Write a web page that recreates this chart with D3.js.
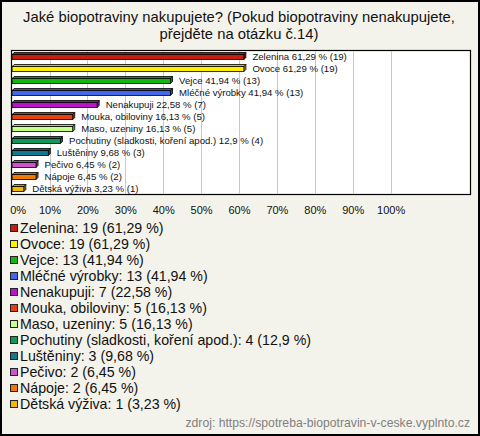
<!DOCTYPE html>
<html><head><meta charset="utf-8">
<script src="https://cdn.jsdelivr.net/npm/d3@7/dist/d3.min.js"></script>
<style>body{margin:0;background:#fff}svg{display:block}</style>
</head><body><svg id="c" width="480" height="436"></svg>
<script>
const categories = ["Zelenina","Ovoce","Vejce","Mléčné výrobky","Nenakupuji","Mouka, obiloviny","Maso, uzeniny","Pochutiny (sladkosti, koření apod.)","Luštěniny","Pečivo","Nápoje","Dětská výživa"];
const counts = [19,19,13,13,7,5,5,4,3,2,2,1];
const percents = [61.29,61.29,41.94,41.94,22.58,16.13,16.13,12.9,9.68,6.45,6.45,3.23];
const colors = ["#c41e0c","#ffee00","#12b812","#4466ee","#b814c8","#e2420e","#c4ff88","#10985a","#127a8c","#cc55cc","#ee7a00","#eebb00"];
const tickValues = [0,10,20,30,40,50,60,70,80,90,100];
const title = ["Jaké biopotraviny nakupujete? (Pokud biopotraviny nenakupujete,","přejděte na otázku č.14)"];
const source = "zdroj: https://spotreba-biopotravin-v-ceske.vyplnto.cz";

const fmt = v => String(v).replace(".", ",");
const svg = d3.select("#c");
const W = 480, H = 436;
svg.append("rect").attr("x",1).attr("y",1).attr("width",W-2).attr("height",H-2)
  .attr("fill","#f4f3eb").attr("stroke","#000").attr("stroke-width",2);

svg.selectAll("text.title").data(title).join("text")
  .attr("x",239).attr("y",(d,i)=>22+i*17).attr("text-anchor","middle")
  .attr("font-family","Liberation Sans, Arial").attr("font-size",14.8).attr("fill","#111").text(d=>d);

const plot = {l:11.5, t:50.5, r:470.5, b:194.5};
svg.append("rect").attr("x",plot.l).attr("y",plot.t).attr("width",plot.r-plot.l).attr("height",plot.b-plot.t)
  .attr("fill","#fff").attr("stroke","#000").attr("stroke-width",1.2);

const x = d3.scaleLinear().domain([0,100]).range([11.6, 390.6]);
const y = d3.scaleBand().domain(categories).range([plot.t, plot.b]).padding(0);

svg.append("g").selectAll("line").data(tickValues.slice(1)).join("line")
  .attr("x1",d=>Math.round(x(d))+0.5).attr("x2",d=>Math.round(x(d))+0.5)
  .attr("y1",plot.t+0.5).attr("y2",plot.b-0.5).attr("stroke","#c8c8c8").attr("stroke-width",1);

const g = svg.append("g");
categories.forEach((c,i)=>{
  const cy = y(c) + y.bandwidth()/2;
  const x0 = x(0)+0.5, x1 = x(percents[i]);
  const top = cy-2, bot = cy+3, dz = 2;
  const col = d3.color(colors[i]);
  g.append("path").attr("d",`M${x1},${top}L${x1+dz},${top-dz}L${x1+dz},${bot-dz}L${x1},${bot}Z`)
    .attr("fill",col.darker(0.9)).attr("stroke","#000").attr("stroke-width",0.8);
  g.append("path").attr("d",`M${x0},${top}L${x0+dz},${top-dz}L${x1+dz},${top-dz}L${x1},${top}Z`)
    .attr("fill",col.darker(0.5)).attr("stroke","#000").attr("stroke-width",0.8);
  g.append("rect").attr("x",x0).attr("y",top).attr("width",x1-x0).attr("height",bot-top)
    .attr("fill",colors[i]).attr("stroke","#000").attr("stroke-width",0.8);
  g.append("text").attr("x",x1+8.5).attr("y",cy+3.5)
    .attr("font-family","Liberation Sans, Arial").attr("font-size",9.6).attr("fill","#111")
    .text(`${c} ${fmt(percents[i])} % (${counts[i]})`);
});

const axis = d3.axisBottom(x).tickValues(tickValues).tickSize(0).tickFormat(d=>d+"%");
const ax = svg.append("g").attr("transform",`translate(0,${plot.b+9})`).call(axis);
ax.select(".domain").remove();
ax.selectAll("text").attr("font-family","Liberation Sans, Arial").attr("font-size",11).attr("fill","#111")
  .attr("x",d=>d===0?6:0);

const lg = svg.append("g");
categories.forEach((c,i)=>{
  const cy = 228 + i*16;
  lg.append("rect").attr("x",10.5).attr("y",cy-3.5).attr("width",7).attr("height",7)
    .attr("fill",colors[i]).attr("stroke","#222").attr("stroke-width",1);
  lg.append("text").attr("x",20).attr("y",cy+5)
    .attr("font-family","Liberation Sans, Arial").attr("font-size",14.2).attr("fill","#111")
    .text(`${c}: ${counts[i]} (${fmt(percents[i])} %)`);
});

svg.append("text").attr("x",470).attr("y",427).attr("text-anchor","end")
  .attr("font-family","Liberation Sans, Arial").attr("font-size",12.2).attr("fill","#808080").text(source);
</script></body></html>
